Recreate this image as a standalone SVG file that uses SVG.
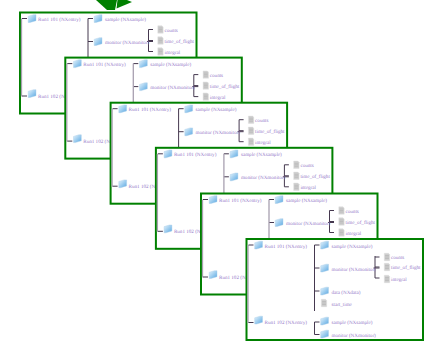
<svg xmlns="http://www.w3.org/2000/svg" width="433" height="347" viewBox="0 0 433 347">
<style>
.fr{fill:#fff;stroke:#008000;stroke-width:2}
.t{font-family:"Liberation Serif",serif;font-size:5.1px;fill:#9478c8;text-rendering:geometricPrecision}
.l{fill:none;stroke:#45384f;stroke-width:1}
.g{fill:none;stroke:#a8a0b0;stroke-width:1.3}
</style>
<defs>
<linearGradient id="bl" x1="0" y1="0" x2="1" y2="1"><stop offset="0" stop-color="#e4f3fc"/><stop offset="1" stop-color="#5aa8e2"/></linearGradient>
<symbol id="fo" viewBox="0 0 8 8" overflow="visible"><path d="M0.2 1.800L5.500 0.200L8 0.200L8 6.200L2 8L0.200 8Z" fill="url(#bl)" stroke="#a8cde8" stroke-width=".4"/></symbol>
<symbol id="do" viewBox="0 0 7 8" overflow="visible"><path d="M0.800 0.300H5L6.200 1.500V7.700H0.800Z" fill="#cfcfcf" stroke="#dedede" stroke-width=".4"/><path d="M1.600 2.500H5.400M1.600 4H5.400M1.600 5.500H5.400" stroke="#aaa" stroke-width=".5"/></symbol>
</defs>
<g id="arrow"><polygon points="96,0 107,10 115,10 117,0" fill="#008000"/><polygon points="117.500,0 116.500,8.500 132,2 127,0" fill="#008000"/></g>

<g id="frame1" transform="translate(20,12.500)">
<rect class="fr" width="176.500" height="101"/>
<g class="connectors"><path class="g" d="M1.500 6V84"/><path class="l" d="M2 6H7M2 83.500H7M68 6V60M68 6H73M68 29H73M128.500 17V39M127 29H133M128.500 17H133M128.500 28H133M128.500 39H133"/></g>
<use href="#fo" x="8" y="2" width="8" height="8"/><text class="t" x="18" y="8.500">Run1 101 (NXentry)</text>
<use href="#fo" x="74" y="2" width="8" height="8"/><text class="t" x="85" y="8.500">sample (NXsample)</text>
<use href="#fo" x="74" y="25" width="8" height="8"/><text class="t" x="85" y="31.500">monitor (NXmonitor)</text>
<use href="#do" x="137" y="13" width="7" height="8"/><text class="t" x="144.500" y="19">counts</text>
<use href="#do" x="137" y="24" width="7" height="8"/><text class="t" x="144.500" y="30">time_of_flight</text>
<use href="#do" x="137" y="35" width="7" height="8"/><text class="t" x="144.500" y="41">integral</text>
<use href="#fo" x="8" y="77" width="8" height="8"/><text class="t" x="18" y="85">Run1 102 (NXentry)</text>
</g>

<g id="frame2" transform="translate(65.300,57.600)">
<rect class="fr" width="176.500" height="101"/>
<g class="connectors"><path class="g" d="M1.500 6V84"/><path class="l" d="M2 6H7M2 83.500H7M68 6H73M68 29H73M128.500 17V39M127 29H133M128.500 17H133M128.500 28H133M128.500 39H133"/><path class="g" d="M68 6V60"/></g>
<use href="#fo" x="8" y="2" width="8" height="8"/><text class="t" x="18" y="8.500">Run1 101 (NXentry)</text>
<use href="#fo" x="74" y="2" width="8" height="8"/><text class="t" x="85" y="8.500">sample (NXsample)</text>
<use href="#fo" x="74" y="25" width="8" height="8"/><text class="t" x="85" y="31.500">monitor (NXmonitor)</text>
<use href="#do" x="137" y="13" width="7" height="8"/><text class="t" x="144.500" y="19">counts</text>
<use href="#do" x="137" y="24" width="7" height="8"/><text class="t" x="144.500" y="30">time_of_flight</text>
<use href="#do" x="137" y="35" width="7" height="8"/><text class="t" x="144.500" y="41">integral</text>
<use href="#fo" x="8" y="77" width="8" height="8"/><text class="t" x="18" y="85">Run1 102 (NXentry)</text>
</g>

<g id="frame3" transform="translate(110.600,102.700)">
<rect class="fr" width="176.500" height="101"/>
<g class="connectors"><path class="g" d="M1.500 6V84"/><path class="l" d="M2 6H7M2 83.500H7M68 6V60M68 6H73M68 29H73M128.500 17V39M127 29H133M128.500 17H133M128.500 28H133M128.500 39H133"/></g>
<use href="#fo" x="8" y="2" width="8" height="8"/><text class="t" x="18" y="8.500">Run1 101 (NXentry)</text>
<use href="#fo" x="74" y="2" width="8" height="8"/><text class="t" x="85" y="8.500">sample (NXsample)</text>
<use href="#fo" x="74" y="25" width="8" height="8"/><text class="t" x="85" y="31.500">monitor (NXmonitor)</text>
<use href="#do" x="137" y="13" width="7" height="8"/><text class="t" x="144.500" y="19">counts</text>
<use href="#do" x="137" y="24" width="7" height="8"/><text class="t" x="144.500" y="30">time_of_flight</text>
<use href="#do" x="137" y="35" width="7" height="8"/><text class="t" x="144.500" y="41">integral</text>
<use href="#fo" x="8" y="77" width="8" height="8"/><text class="t" x="18" y="85">Run1 102 (NXentry)</text>
</g>

<g id="frame4" transform="translate(155.900,147.800)">
<rect class="fr" width="176.500" height="101"/>
<g class="connectors"><path class="g" d="M1.500 6V84"/><path class="l" d="M2 6H7M2 83.500H7M68 6H73M68 29H73M128.500 17V39M127 29H133M128.500 17H133M128.500 28H133M128.500 39H133"/><path class="g" d="M68 6V60"/></g>
<use href="#fo" x="8" y="2" width="8" height="8"/><text class="t" x="18" y="8.500">Run1 101 (NXentry)</text>
<use href="#fo" x="74" y="2" width="8" height="8"/><text class="t" x="85" y="8.500">sample (NXsample)</text>
<use href="#fo" x="74" y="25" width="8" height="8"/><text class="t" x="85" y="31.500">monitor (NXmonitor)</text>
<use href="#do" x="137" y="13" width="7" height="8"/><text class="t" x="144.500" y="19">counts</text>
<use href="#do" x="137" y="24" width="7" height="8"/><text class="t" x="144.500" y="30">time_of_flight</text>
<use href="#do" x="137" y="35" width="7" height="8"/><text class="t" x="144.500" y="41">integral</text>
<use href="#fo" x="8" y="77" width="8" height="8"/><text class="t" x="18" y="85">Run1 102 (NXentry)</text>
</g>

<g id="frame5" transform="translate(201,193.500)">
<rect class="fr" width="176.500" height="101"/>
<g class="connectors"><path class="g" d="M1.500 6V84"/><path class="l" d="M2 6H7M2 83.500H7M68 6H73M68 29H73M128.500 17V39M127 29H133M128.500 17H133M128.500 28H133M128.500 39H133"/><path class="g" d="M68 6V60"/></g>
<use href="#fo" x="8" y="2" width="8" height="8"/><text class="t" x="18" y="8.500">Run1 101 (NXentry)</text>
<use href="#fo" x="74" y="2" width="8" height="8"/><text class="t" x="85" y="8.500">sample (NXsample)</text>
<use href="#fo" x="74" y="25" width="8" height="8"/><text class="t" x="85" y="31.500">monitor (NXmonitor)</text>
<use href="#do" x="137" y="13" width="7" height="8"/><text class="t" x="144.500" y="19">counts</text>
<use href="#do" x="137" y="24" width="7" height="8"/><text class="t" x="144.500" y="30">time_of_flight</text>
<use href="#do" x="137" y="35" width="7" height="8"/><text class="t" x="144.500" y="41">integral</text>
<use href="#fo" x="8" y="77" width="8" height="8"/><text class="t" x="18" y="85">Run1 102 (NXentry)</text>
</g>

<g id="frame6" transform="translate(246.500,239)">
<rect class="fr" width="176.500" height="101"/>
<g class="connectors"><path class="g" d="M1.500 6V84"/><path class="l" d="M2 6H7M2 83.500H7M68 6V72M68 6H73M68 29H73M68 52H73M128.500 17V39M127 29H133M128.500 18H133M128.500 28H133M128.500 39H133M68 83V95.500M68 83H73M68 95.500H73"/></g>
<use href="#fo" x="8" y="2" width="8" height="8"/><text class="t" x="18" y="8.500">Run1 101 (NXentry)</text>
<use href="#fo" x="74" y="2" width="8" height="8"/><text class="t" x="85" y="8.500">sample (NXsample)</text>
<use href="#fo" x="74" y="25" width="8" height="8"/><text class="t" x="85" y="31.500">monitor (NXmonitor)</text>
<use href="#do" x="137" y="14" width="7" height="8"/><text class="t" x="144.500" y="20">counts</text>
<use href="#do" x="137" y="24" width="7" height="8"/><text class="t" x="144.500" y="30">time_of_flight</text>
<use href="#do" x="137" y="36" width="7" height="8"/><text class="t" x="144.500" y="42">integral</text>
<use href="#fo" x="74" y="48" width="8" height="8"/><text class="t" x="85" y="54.500">data (NXdata)</text>
<use href="#do" x="74" y="60" width="7" height="8"/><text class="t" x="85" y="66.500">start_time</text>
<use href="#fo" x="8" y="77" width="8" height="8"/><text class="t" x="18" y="85">Run1 102 (NXentry)</text>
<use href="#fo" x="74" y="78" width="8" height="8"/><text class="t" x="85" y="84.500">sample (NXsample)</text>
<use href="#fo" x="74" y="91" width="8" height="8"/><text class="t" x="85" y="97.500">monitor (NXmonitor)</text>
</g>
</svg>
